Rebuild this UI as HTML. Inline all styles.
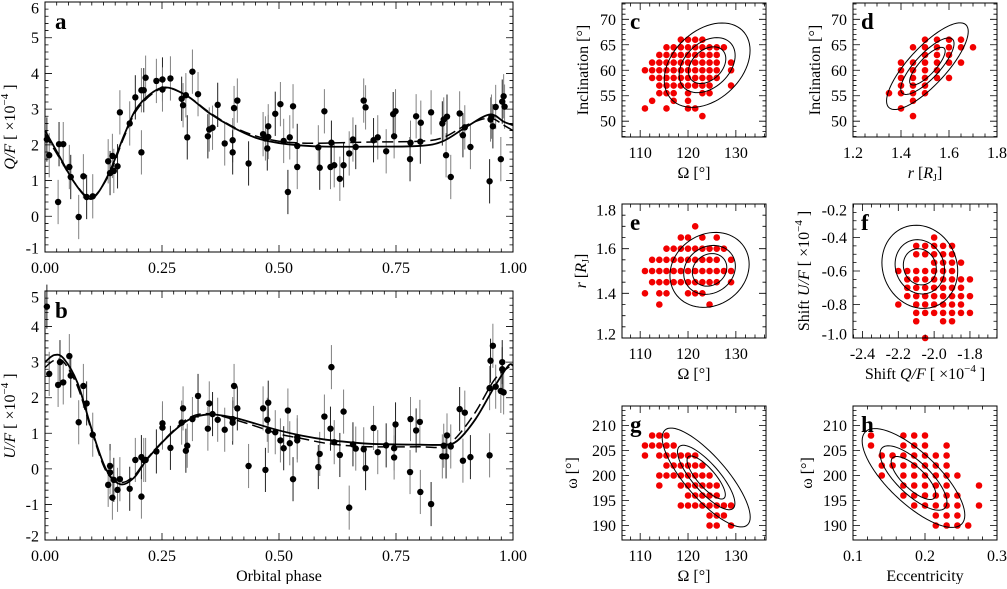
<!DOCTYPE html>
<html><head><meta charset="utf-8"><style>
html,body{margin:0;padding:0;background:#fff;}
svg, svg text{font-family:"Liberation Serif","DejaVu Serif",serif;}
</style></head><body>
<svg id="fig" width="1007" height="584" viewBox="0 0 1007 584" xmlns="http://www.w3.org/2000/svg" font-family="Liberation Serif, serif"></svg>
<script>
// ---------- DATA ----------
const qPhase=[0.004,0.009,0.028,0.03,0.039,0.052,0.055,0.072,0.082,0.089,0.102,0.135,0.139,0.144,0.147,0.155,0.16,0.181,0.193,0.206,0.206,0.211,0.215,0.238,0.251,0.251,0.268,0.292,0.295,0.301,0.304,0.315,0.327,0.348,0.351,0.358,0.369,0.384,0.401,0.401,0.404,0.411,0.435,0.466,0.471,0.475,0.477,0.477,0.492,0.503,0.51,0.519,0.523,0.53,0.539,0.539,0.584,0.587,0.597,0.61,0.612,0.618,0.63,0.638,0.65,0.658,0.664,0.681,0.685,0.702,0.711,0.729,0.744,0.746,0.749,0.78,0.781,0.793,0.802,0.803,0.825,0.849,0.852,0.857,0.859,0.867,0.886,0.893,0.897,0.909,0.95,0.952,0.954,0.957,0.963,0.974,0.977,0.98,0.982];
const qVal=[2.15,1.71,0.40,2.02,2.02,1.38,1.10,-0.02,1.12,0.54,0.56,1.54,1.21,1.69,1.27,1.40,2.91,2.60,3.33,1.79,3.53,3.53,3.88,3.79,3.83,3.55,3.86,3.29,3.11,3.39,2.21,4.05,3.42,2.24,2.43,2.48,3.12,2.04,2.13,1.79,3.03,3.24,1.48,2.30,2.18,1.90,2.52,2.22,2.87,3.14,2.11,0.68,2.21,3.08,1.97,1.38,1.93,1.36,2.94,1.38,2.06,1.43,1.05,1.43,1.76,2.15,1.94,3.24,3.05,2.13,2.21,1.82,2.86,2.24,2.94,1.60,2.06,2.80,2.09,2.62,2.91,2.60,2.71,1.71,2.79,1.10,2.88,2.27,2.49,1.94,0.98,2.71,2.79,2.52,3.06,1.60,3.21,3.36,3.07];
const qErr=0.62;
const qModelPhase=[0,0.03,0.06,0.09,0.11,0.14,0.17,0.2,0.25,0.3,0.35,0.4,0.45,0.5,0.55,0.6,0.7,0.8,0.85,0.9,0.95,0.98,1.0];
const qModel=[2.4,1.7,1.0,0.52,0.6,1.3,2.3,3.1,3.6,3.4,2.9,2.5,2.2,2.05,1.98,1.95,1.95,1.97,2.1,2.5,2.85,2.65,2.55];
const qModel2=[2.3,1.65,1.0,0.55,0.62,1.25,2.25,3.05,3.58,3.4,2.92,2.52,2.25,2.1,2.05,2.05,2.08,2.1,2.2,2.55,2.75,2.55,2.4];

const uPhase=[0.004,0.009,0.028,0.032,0.039,0.052,0.055,0.072,0.082,0.089,0.102,0.135,0.139,0.139,0.144,0.147,0.155,0.16,0.181,0.193,0.206,0.206,0.211,0.215,0.238,0.251,0.251,0.268,0.292,0.295,0.301,0.304,0.315,0.327,0.348,0.351,0.358,0.369,0.384,0.401,0.401,0.404,0.411,0.435,0.466,0.471,0.475,0.477,0.477,0.492,0.503,0.51,0.519,0.523,0.53,0.539,0.539,0.584,0.587,0.597,0.61,0.612,0.618,0.63,0.638,0.65,0.658,0.664,0.681,0.685,0.702,0.711,0.729,0.746,0.746,0.749,0.78,0.781,0.793,0.802,0.801,0.825,0.849,0.852,0.857,0.859,0.867,0.886,0.893,0.897,0.909,0.95,0.95,0.952,0.957,0.963,0.977,0.974,0.98,0.977];
const uVal=[4.56,2.67,2.36,3.0,2.43,3.17,2.62,1.31,2.33,1.84,0.96,-0.45,0.08,-0.10,-0.81,-0.31,-0.59,-0.29,-0.56,0.25,-0.78,0.33,0.25,0.25,0.49,1.28,1.16,0.59,1.30,1.70,0.51,0.65,1.40,2.05,1.13,1.84,1.54,1.38,1.10,1.30,1.40,2.33,1.70,0.08,1.70,-0.03,1.38,1.07,1.86,1.03,0.80,0.58,1.64,0.72,-0.29,0.89,0.80,0.05,0.42,1.47,1.13,2.86,0.75,0.39,1.61,-1.09,0.69,0.57,0.55,0.02,1.15,0.47,0.66,0.32,0.58,1.25,-0.09,1.40,1.08,-0.65,1.32,-0.99,0.35,0.65,0.35,0.94,0.63,1.68,0.23,1.58,0.33,0.38,2.27,3.04,3.46,2.31,3.0,2.19,2.15,2.8];
const uErr=0.62;
const uModelPhase=[0,0.02,0.04,0.07,0.1,0.13,0.16,0.19,0.22,0.27,0.31,0.35,0.4,0.45,0.5,0.55,0.6,0.65,0.7,0.8,0.85,0.88,0.92,0.96,0.99,1.0];
const uModel=[3.0,3.2,3.1,2.4,1.1,0.0,-0.43,-0.25,0.3,1.0,1.4,1.53,1.45,1.27,1.08,0.93,0.82,0.75,0.7,0.68,0.68,0.78,1.4,2.3,2.9,2.9];
const uModel2=[2.85,3.05,3.0,2.3,1.05,-0.05,-0.38,-0.2,0.32,1.02,1.45,1.55,1.4,1.2,0.98,0.85,0.72,0.65,0.62,0.62,0.62,0.9,1.6,2.5,2.85,2.9];

const cX=[118.5,120,121.5,123, 115.5,117,118.5,120,121.5,123,124.5,126,127.5, 114,115.5,117,118.5,120,121.5,123,124.5,126, 112.5,114,115.5,117,118.5,120,121.5,123,124.5,126,129, 111,112.5,114,115.5,117,118.5,120,121.5,123,124.5,126,129, 112.5,114,115.5,117,118.5,120,121.5,123,124.5,126, 114,115.5,117,118.5,120,121.5,123,124.5,129, 114,115.5,117,120,123,124.5, 112.5,117,120, 111,115.5,120,121.5, 123];
const cY=[66,66,66,66, 64.5,64.5,64.5,64.5,64.5,64.5,64.5,64.5,64.5, 63,63,63,63,63,63,63,63,63, 61.5,61.5,61.5,61.5,61.5,61.5,61.5,61.5,61.5,61.5,61.5, 60,60,60,60,60,60,60,60,60,60,60,60, 58.5,58.5,58.5,58.5,58.5,58.5,58.5,58.5,58.5,58.5, 57,57,57,57,57,57,57,57,57, 55.5,55.5,55.5,55.5,55.5,55.5, 54,54,54, 52.5,52.5,52.5,52.5, 51];
const dX=[1.5,1.55,1.6,1.65, 1.45,1.5,1.55,1.6,1.65,1.7, 1.5,1.55,1.6, 1.4,1.45,1.5,1.55,1.6,1.65, 1.4,1.45,1.5,1.55, 1.4,1.45,1.5,1.55,1.6, 1.4,1.45,1.5, 1.35,1.4,1.45,1.5, 1.45, 1.4, 1.45];
const dY=[66,66,66,66, 64.5,64.5,64.5,64.5,64.5,64.5, 63,63,63, 61.5,61.5,61.5,61.5,61.5,61.5, 60,60,60,60, 58.5,58.5,58.5,58.5,58.5, 57,57,57, 55.5,55.5,55.5,55.5, 54, 52.5, 51];
const eX=[121.5, 118.5,120,123,126, 115.5,117,118.5,120,121.5,123,124.5,126,127.5, 112.5,114,115.5,117,118.5,120,121.5,123,124.5,126,129, 111,112.5,114,115.5,117,118.5,120,121.5,123,124.5,126,127.5,129, 112.5,114,115.5,117,118.5,120,121.5,123,124.5,126,129, 111,114,115.5,120,121.5,123, 114,124.5];
const eY=[1.7, 1.65,1.65,1.65,1.65, 1.6,1.6,1.6,1.6,1.6,1.6,1.6,1.6,1.6, 1.55,1.55,1.55,1.55,1.55,1.55,1.55,1.55,1.55,1.55,1.55, 1.5,1.5,1.5,1.5,1.5,1.5,1.5,1.5,1.5,1.5,1.5,1.5,1.5, 1.45,1.45,1.45,1.45,1.45,1.45,1.45,1.45,1.45,1.45,1.45, 1.4,1.4,1.4,1.4,1.4,1.4, 1.35,1.35];
const fX=[-2.0, -2.1,-2.05,-2.0,-1.95,-1.9, -2.1,-2.05,-2.0,-1.95,-1.9, -2.0,-1.95,-1.9,-1.85, -2.2,-2.15,-2.1,-2.05,-2.0,-1.95,-1.9, -2.15,-2.1,-2.05,-2.0,-1.95,-1.9,-1.85,-1.8, -2.15,-2.1,-2.05,-2.0,-1.95,-1.9,-1.85, -2.15,-2.1,-2.05,-2.0,-1.95,-1.9,-1.85,-1.8, -2.2,-2.1,-2.05,-2.0,-1.95,-1.9,-1.85, -2.1,-2.05,-2.0,-1.95,-1.9,-1.85,-1.8, -2.1,-1.95,-1.9, -2.05];
const fY=[-0.4, -0.45,-0.45,-0.45,-0.45,-0.45, -0.5,-0.5,-0.5,-0.5,-0.5, -0.55,-0.55,-0.55,-0.55, -0.6,-0.6,-0.6,-0.6,-0.6,-0.6,-0.6, -0.65,-0.65,-0.65,-0.65,-0.65,-0.65,-0.65,-0.65, -0.7,-0.7,-0.7,-0.7,-0.7,-0.7,-0.7, -0.75,-0.75,-0.75,-0.75,-0.75,-0.75,-0.75,-0.75, -0.8,-0.8,-0.8,-0.8,-0.8,-0.8,-0.8, -0.85,-0.85,-0.85,-0.85,-0.85,-0.85,-0.85, -0.9,-0.9,-0.9, -1.0];
const gX=[112.5,114,115.5, 111,112.5,114,115.5,117, 111,114,115.5,117,118.5,120,121.5, 115.5,117,118.5,120,121.5,123, 114,115.5,117,118.5,120,121.5,123,124.5, 114,118.5,120,121.5,123,124.5,126, 120,121.5,123,124.5,126, 118.5,120,121.5,123,124.5,126,127.5,129, 124.5,126,127.5, 124.5,126,129];
const gY=[208,208,208, 206,206,206,206,206, 204,204,204,204,204,204,204, 202,202,202,202,202,202, 200,200,200,200,200,200,200,200, 198,198,198,198,198,198,198, 196,196,196,196,196, 194,194,194,194,194,194,194,194, 192,192,192, 190,190,190];
const hX=[0.125,0.17,0.185,0.2, 0.125,0.17,0.185,0.2,0.23, 0.14,0.155,0.17,0.185,0.2,0.215,0.23, 0.14,0.155,0.17,0.185,0.2,0.215,0.23, 0.14,0.17,0.185,0.2,0.215,0.23,0.245, 0.17,0.185,0.2,0.215,0.23,0.275, 0.17,0.185,0.2,0.215,0.23,0.245, 0.185,0.2,0.215,0.23,0.245,0.275, 0.215,0.23,0.245, 0.215,0.23,0.245,0.26];
const hY=[208,208,208,208, 206,206,206,206,206, 204,204,204,204,204,204,204, 202,202,202,202,202,202,202, 200,200,200,200,200,200,200, 198,198,198,198,198,198, 196,196,196,196,196,196, 194,194,194,194,194,194, 192,192,192, 190,190,190,190];

const contourLevels=[1,1.5,2.3];
const cEll=[124,61,3.9,3.6,0.35];
const dEll=[1.51,60.8,0.074,3.7,0.8];
const eEll=[124.5,1.505,3.6,0.073,0.15];
const fEll=[-2.08,-0.575,0.092,0.108,-0.1];
const gEll=[123.8,199.6,4.0,4.3,-0.8];
const hEll=[0.184,199.5,0.031,4.3,-0.75];

const phaseTicks=[0,0.25,0.5,0.75,1];
const phaseTickLabels=["0.00","0.25","0.50","0.75","1.00"];
const qTicks=[-1,0,1,2,3,4,5,6];
const uTicks=[-2,-1,0,1,2,3,4,5];
const omegaTicks=[110,120,130];
const inclTicks=[50,55,60,65,70];
const rTicksX=[1.2,1.4,1.6,1.8];
const rTicksY=[1.2,1.4,1.6,1.8];
const shiftQTicks=[-2.4,-2.2,-2.0,-1.8];
const shiftUTicks=[-1.0,-0.8,-0.6,-0.4,-0.2];
const argTicks=[190,195,200,205,210];
const eccTicks=[0.1,0.2,0.3];

// ---------- DRAWING ----------
const NS="http://www.w3.org/2000/svg";
const FONT='"Liberation Serif", "DejaVu Serif", serif';
const svg=document.getElementById('fig');
function el(tag,parent){const e=document.createElementNS(NS,tag);(parent||svg).appendChild(e);return e;}

function makePanel(box,xr,yr,name){
  const g=el('g');
  
  
  const sx=v=>box.x0+(v-xr[0])/(xr[1]-xr[0])*(box.x1-box.x0);
  const sy=v=>box.y1-(v-yr[0])/(yr[1]-yr[0])*(box.y1-box.y0);
  return {g,box,sx,sy,xr,yr};
}
function frame(p){
  const r=el('rect',p.g);
  r.setAttribute('x',p.box.x0);r.setAttribute('y',p.box.y0);
  r.setAttribute('width',p.box.x1-p.box.x0);r.setAttribute('height',p.box.y1-p.box.y0);
  r.setAttribute('fill','none');r.setAttribute('stroke','#000');r.setAttribute('stroke-width','1');
  
  
}
function mkText(parent){const t=el('text',parent);t.setAttribute('font-family',FONT);t.style.fontFamily=FONT;return t;}
function ticks(p,xt,xlab,xminor,yt,ylab,yminor,fs){
  const b=p.box;let d='';
  const minorX=[];for(let v=Math.ceil(p.xr[0]/xminor-1e-6)*xminor;v<=p.xr[1]+1e-9;v+=xminor)minorX.push(v);
  const minorY=[];for(let v=Math.ceil(p.yr[0]/yminor-1e-6)*yminor;v<=p.yr[1]+1e-9;v+=yminor)minorY.push(v);
  minorX.forEach(v=>{const x=p.sx(v);d+=`M${x},${b.y1}v-3.5M${x},${b.y0}v3.5`;});
  minorY.forEach(v=>{const y=p.sy(v);d+=`M${b.x0},${y}h3.5M${b.x1},${y}h-3.5`;});
  xt.forEach(v=>{const x=p.sx(v);d+=`M${x},${b.y1}v-7M${x},${b.y0}v7`;});
  yt.forEach(v=>{const y=p.sy(v);d+=`M${b.x0},${y}h7M${b.x1},${y}h-7`;});
  const path=el('path',p.g);path.setAttribute('d',d);path.setAttribute('stroke','#000');path.setAttribute('stroke-width','0.8');path.setAttribute('fill','none');
  
  
  if(xlab){xt.forEach((v,i)=>{const t=mkText(p.g);t.setAttribute('x',p.sx(v));t.setAttribute('y',b.y1+21);t.setAttribute('text-anchor','middle');t.setAttribute('font-size',fs);t.textContent=xlab[i];
    
    });}
  yt.forEach((v,i)=>{let y=p.sy(v);y=Math.max(b.y0+6,Math.min(b.y1-4,y));const t=mkText(p.g);t.setAttribute('x',b.x0-6);t.setAttribute('y',y+5.5);t.setAttribute('text-anchor','end');t.setAttribute('font-size',fs);t.textContent=ylab[i];
    
    });
}
function text(parent,x,y,html,fs,opts){
  const t=mkText(parent);t.setAttribute('x',x);t.setAttribute('y',y);t.setAttribute('font-size',fs);
  t.setAttribute('text-anchor',(opts&&opts.anchor)||'middle');
  if(opts&&opts.bold)t.setAttribute('font-weight','bold');
  if(opts&&opts.rot)t.setAttribute('transform',`rotate(-90 ${x} ${y})`);
  t.innerHTML=html;return t;
}
function curve(p,xs,ys,dash,name){
  const pts=xs.map((x,i)=>[p.sx(x),p.sy(ys[i])]);
  let d=`M${pts[0][0]},${pts[0][1]}`;
  for(let i=0;i<pts.length-1;i++){
    const p0=pts[Math.max(0,i-1)],p1=pts[i],p2=pts[i+1],p3=pts[Math.min(pts.length-1,i+2)];
    const c1=[p1[0]+(p2[0]-p0[0])/6,p1[1]+(p2[1]-p0[1])/6];
    const c2=[p2[0]-(p3[0]-p1[0])/6,p2[1]-(p3[1]-p1[1])/6];
    d+=`C${c1[0]},${c1[1]} ${c2[0]},${c2[1]} ${p2[0]},${p2[1]}`;
  }
  const path=el('path',p.g);path.setAttribute('d',d);path.setAttribute('fill','none');path.setAttribute('stroke','#000');
  path.setAttribute('stroke-width',dash?'1.5':'1.8');if(dash)path.setAttribute('stroke-dasharray','11,5');
  
  
}
function errPoints(p,xs,ys,err,name){
  xs.forEach((x,i)=>{
    const l=el('line',p.g);l.setAttribute('x1',p.sx(x));l.setAttribute('x2',p.sx(x));
    l.setAttribute('y1',p.sy(ys[i]-err));l.setAttribute('y2',p.sy(ys[i]+err));
    l.setAttribute('stroke',i%3===0?'#222':'#808080');l.setAttribute('stroke-width','1');
    
    
  });
  xs.forEach((x,i)=>{
    const c=el('circle',p.g);c.setAttribute('cx',p.sx(x));c.setAttribute('cy',p.sy(ys[i]));c.setAttribute('r','3.2');c.setAttribute('fill','#000');
    
    
  });
}
function redDots(p,xs,ys){
  xs.forEach((x,i)=>{
    const c=el('circle',p.g);c.setAttribute('cx',p.sx(x));c.setAttribute('cy',p.sy(ys[i]));c.setAttribute('r','3.3');c.setAttribute('fill','#f20000');
    
    
  });
}
function contours(p,e){
  contourLevels.forEach(k=>{
    let d='';
    for(let j=0;j<=72;j++){const t=j/72*2*Math.PI;
      const x=e[0]+k*e[2]*Math.cos(t);
      const y=e[1]+k*e[3]*(e[4]*Math.cos(t)+Math.sqrt(1-e[4]*e[4])*Math.sin(t));
      d+=(j?'L':'M')+p.sx(x)+','+p.sy(y);}
    const path=el('path',p.g);path.setAttribute('d',d+'Z');path.setAttribute('fill','none');path.setAttribute('stroke','#000');path.setAttribute('stroke-width','1');
    
    
  });
}
const fmt1=a=>a.map(v=>v.toFixed(1));
const fmtI=a=>a.map(v=>String(v));
const SUP='<tspan font-size="11" dy="-7">−4</tspan><tspan dy="7"> ]</tspan>';

const A=makePanel({x0:45,x1:513,y0:2,y1:252},[0,1],[-1,6],'panel-a');
errPoints(A,qPhase,qVal,qErr,'q-data-point');
curve(A,qModelPhase,qModel2,true,'q-model-dashed');
curve(A,qModelPhase,qModel,false,'q-model-solid');
frame(A);ticks(A,phaseTicks,phaseTickLabels,0.025,qTicks,fmtI(qTicks),0.2,16);
let t=text(A.g,55,29,'a',23,{anchor:'start',bold:true});


t=text(A.g,15,127,'<tspan font-style="italic">Q/F</tspan> [ ×10'+SUP,16,{rot:true});



const B=makePanel({x0:45,x1:513,y0:291,y1:540},[0,1],[-2,5],'panel-b');
errPoints(B,uPhase,uVal,uErr,'u-data-point');
curve(B,uModelPhase,uModel2,true,'u-model-dashed');
curve(B,uModelPhase,uModel,false,'u-model-solid');
frame(B);ticks(B,phaseTicks,phaseTickLabels,0.025,uTicks,fmtI(uTicks),0.2,16);
t=text(B.g,55,318,'b',23,{anchor:'start',bold:true});


t=text(B.g,15,416,'<tspan font-style="italic">U/F</tspan> [ ×10'+SUP,16,{rot:true});


t=text(B.g,279,581,'Orbital phase',16);



const omRange=[106.2,136.3], incRange=[46.9,73.2], argRange=[187.1,213.9];
function smallPanel(box,xr,yr,name,letter,xs,ys,ell,xt,xl,xm,yt,yl,ym,xtitle,ytitle,ytx){
  const P=makePanel(box,xr,yr,name);
  redDots(P,xs,ys);contours(P,ell);frame(P);
  ticks(P,xt,xl,xm,yt,yl,ym,16);
  let l=text(P.g,box.x0+8,box.y0+26,letter,23,{anchor:'start',bold:true});
  
  
  l=text(P.g,(box.x0+box.x1)/2,box.y1+41,xtitle,16);
  
  
  l=text(P.g,ytx,(box.y0+box.y1)/2,ytitle,16,{rot:true});
  
  
}
const RJ='<tspan font-style="italic">r</tspan> [<tspan font-style="italic">R</tspan><tspan font-size="10" dy="3">J</tspan><tspan dy="-3">]</tspan>';
smallPanel({x0:622,x1:766,y0:3,y1:137},omRange,incRange,'panel-c','c',cX,cY,cEll,omegaTicks,fmtI(omegaTicks),2,inclTicks,fmtI(inclTicks),1,'Ω [°]','Inclination [°]',588);
smallPanel({x0:853,x1:997,y0:3,y1:137},[1.2,1.8],incRange,'panel-d','d',dX,dY,dEll,rTicksX,fmt1(rTicksX),0.05,inclTicks,fmtI(inclTicks),1,RJ,'Inclination [°]',820);
smallPanel({x0:622,x1:766,y0:204,y1:338},omRange,[1.2,1.8],'panel-e','e',eX,eY,eEll,omegaTicks,fmtI(omegaTicks),2,rTicksY,fmt1(rTicksY),0.05,'Ω [°]',RJ,586);
smallPanel({x0:853,x1:997,y0:204,y1:338},[-2.453,-1.649],[-1.0,-0.2],'panel-f','f',fX,fY,fEll,shiftQTicks,fmt1(shiftQTicks),0.05,shiftUTicks,fmt1(shiftUTicks),0.05,'Shift <tspan font-style="italic">Q/F</tspan> [ ×10'+SUP,'Shift <tspan font-style="italic">U/F</tspan> [ ×10'+SUP,809);
smallPanel({x0:622,x1:766,y0:406,y1:540},omRange,argRange,'panel-g','g',gX,gY,gEll,omegaTicks,fmtI(omegaTicks),2,argTicks,fmtI(argTicks),1,'Ω [°]','ω [°]',577);
smallPanel({x0:853,x1:997,y0:406,y1:540},[0.1,0.3],argRange,'panel-h','h',hX,hY,hEll,eccTicks,fmt1(eccTicks),0.02,argTicks,fmtI(argTicks),1,'Eccentricity','ω [°]',812);
</script>
</body></html>
